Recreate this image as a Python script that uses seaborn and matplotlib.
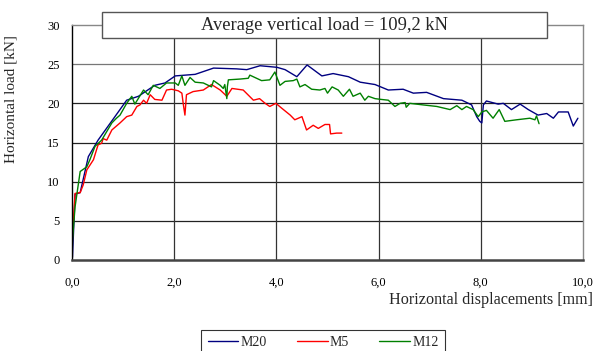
import numpy as np
import pandas as pd
import matplotlib
matplotlib.use("Agg")
import matplotlib.pyplot as plt
from matplotlib.patches import Rectangle
import seaborn as sns

# ---- data ----
m20_x = [0, 0.01, 0.06, 0.16, 0.32, 0.51, 0.84, 1.07, 1.30, 1.62, 1.82, 2.02, 2.41, 2.77, 3.22,
         3.42, 3.68, 4.01, 4.17, 4.40, 4.60, 4.89, 5.11, 5.41, 5.64, 5.93, 6.19, 6.48, 6.68, 6.94,
         7.27, 7.63, 7.82, 7.92, 7.98, 8.02, 8.05, 8.11, 8.34, 8.44, 8.60, 8.77, 8.93, 9.12, 9.29,
         9.42, 9.52, 9.71, 9.81, 9.90]
m20_y = [0, 0.4, 8.4, 8.6, 13.2, 15.3, 18.3, 20.4, 20.9, 22.3, 22.6, 23.5, 23.7, 24.5, 24.4,
         24.3, 24.8, 24.6, 24.3, 23.4, 24.9, 23.5, 23.8, 23.4, 22.7, 22.4, 21.7, 21.8, 21.3, 21.4,
         20.6, 20.4, 19.8, 18.3, 17.7, 17.5, 19.8, 20.3, 19.9, 20.0, 19.2, 19.9, 19.2, 18.5, 18.7,
         18.1, 18.9, 18.9, 17.1, 18.1]

m5_x = [0, 0.01, 0.06, 0.16, 0.22, 0.29, 0.42, 0.51, 0.58, 0.61, 0.68, 0.78, 0.94, 1.07, 1.17,
        1.27, 1.33, 1.40, 1.46, 1.53, 1.62, 1.76, 1.85, 1.95, 2.08, 2.15, 2.18, 2.21, 2.24, 2.37,
        2.57, 2.73, 2.90, 3.03, 3.13, 3.35, 3.55, 3.67, 3.78, 3.87, 3.99, 4.10, 4.27, 4.36, 4.50,
        4.59, 4.72, 4.82, 4.95, 5.04, 5.06, 5.18, 5.28]
m5_y = [0, 3.4, 8.5, 8.6, 9.6, 11.5, 12.8, 14.7, 14.9, 15.5, 15.3, 16.6, 17.5, 18.3, 18.5,
        19.6, 19.8, 20.4, 20.0, 21.1, 20.5, 20.4, 21.7, 21.8, 21.6, 21.3, 19.8, 18.5, 21.1, 21.5,
        21.7, 22.4, 21.7, 20.9, 21.9, 21.7, 20.4, 20.6, 20.0, 19.6, 20.0, 19.4, 18.5, 17.9, 18.3,
        16.6, 17.2, 16.8, 17.3, 17.3, 16.1, 16.2, 16.2]

m12_x = [0, 0.01, 0.06, 0.16, 0.29, 0.35, 0.45, 0.58, 0.68, 0.78, 0.87, 0.94, 1.07, 1.17, 1.23,
         1.40, 1.49, 1.59, 1.72, 1.85, 2.02, 2.08, 2.15, 2.21, 2.31, 2.41, 2.57, 2.73, 2.77, 2.90,
         2.96, 2.99, 3.03, 3.04, 3.06, 3.29, 3.45, 3.48, 3.71, 3.87, 3.97, 4.07, 4.17, 4.33, 4.40,
         4.46, 4.56, 4.69, 4.85, 4.95, 5.00, 5.09, 5.21, 5.31, 5.43, 5.50, 5.64, 5.73, 5.80, 5.93,
         6.05, 6.19, 6.32, 6.42, 6.52, 6.54, 6.61, 6.87, 7.14, 7.40, 7.53, 7.63, 7.72, 7.85, 7.95,
         8.02, 8.11, 8.24, 8.36, 8.47, 8.70, 8.96, 9.06, 9.09, 9.14]
m12_y = [0, 2.6, 6.8, 11.3, 11.9, 12.8, 14.5, 15.3, 16.4, 17.5, 18.1, 18.5, 20.0, 20.9, 19.9,
         21.7, 21.1, 22.3, 21.9, 22.6, 22.6, 22.3, 23.5, 22.3, 23.3, 22.7, 22.6, 22.1, 22.9, 22.3,
         21.9, 22.4, 20.6, 22.1, 23.0, 23.1, 23.2, 23.6, 22.9, 23.0, 24.0, 22.3, 22.8, 22.9, 23.1,
         22.1, 22.4, 21.8, 21.7, 21.9, 21.3, 22.1, 21.7, 20.9, 21.8, 20.9, 21.3, 20.4, 20.9, 20.6,
         20.5, 20.4, 19.6, 20.0, 20.1, 19.5, 20.0, 19.8, 19.6, 19.2, 19.7, 19.2, 19.6, 19.2, 18.3,
         18.9, 19.1, 18.1, 19.2, 17.7, 17.9, 18.1, 17.9, 18.4, 17.4]

series_names = ["M20", "M5", "M12"]
colors = ["#000080", "#ff0000", "#008000"]
x_ticks = [0, 2, 4, 6, 8, 10]
x_tick_labels = ["0,0", "2,0", "4,0", "6,0", "8,0", "10,0"]
y_ticks = [0, 5, 10, 15, 20, 25, 30]
title_text = "Average vertical load = 109,2 kN"

frames = []
for name, xs, ys in zip(series_names, [m20_x, m5_x, m12_x], [m20_y, m5_y, m12_y]):
    frames.append(pd.DataFrame({"x": xs, "y": ys, "series": name}))
df = pd.concat(frames, ignore_index=True)

sns.set_style("white")
plt.rcParams["font.family"] = ["Liberation Serif", "DejaVu Serif"]

W, H = 596, 351
fig = plt.figure(figsize=(W / 100, H / 100), dpi=100)
ax = fig.add_axes([72 / W, 1 - 260 / H, (583 - 72) / W, (260 - 25) / H])

sns.lineplot(data=df, x="x", y="y", hue="series", hue_order=series_names,
             palette=colors, sort=False, estimator=None, units="series",
             linewidth=1.0, ax=ax, legend=False)

ax.set_xlim(0, 10)
ax.set_ylim(0, 30)
ax.set_xticks(x_ticks)
ax.set_xticklabels(x_tick_labels, fontsize=9)
ax.set_yticks(y_ticks)
ax.set_yticklabels([str(v) for v in y_ticks], fontsize=9)
ax.tick_params(axis="both", direction="out", length=4, width=0.8, colors="black", pad=5)
ax.tick_params(axis="x", pad=8)

for v in [5, 10, 15, 20, 25]:
    ax.axhline(v, color="#222222" if v != 25 else "#777777", lw=0.9, zorder=0.5)
for v in [2, 4, 6, 8]:
    ax.axvline(v, color="#333333", lw=0.9, zorder=0.5)

for s in ["top", "right"]:
    ax.spines[s].set_visible(True)
    ax.spines[s].set_color("#888888")
    ax.spines[s].set_linewidth(1.0)
ax.spines["left"].set_color("black")
ax.spines["left"].set_linewidth(1.0)
ax.spines["bottom"].set_color("#444444")
ax.spines["bottom"].set_linewidth(1.8)

ax.set_xlabel("")
ax.set_ylabel("Horizontal load [kN]", fontsize=11)
ax.yaxis.set_label_coords((17.5 - 72) / 511, (260 - 99) / 235)
fig.text(593 / W, 1 - 300 / H, "Horizontal displacements [mm]", ha="right", va="center", fontsize=11.6)

# title box
rect = Rectangle((102 / W, 1 - 38 / H), 445 / W, 26 / H, transform=fig.transFigure,
                 facecolor="white", edgecolor="#555555", lw=1.0, zorder=5)
fig.patches.append(rect)
fig.text(324.5 / W, 1 - 25 / H, title_text, ha="center", va="center", fontsize=13.3, zorder=6)

handles = ax.get_lines()[:3]
leg = fig.legend(handles, series_names, loc="upper center",
                 bbox_to_anchor=(323 / W, 1 - 330 / H), borderaxespad=0, ncol=3, fontsize=10,
                 frameon=True, fancybox=False, edgecolor="black", handlelength=2.2,
                 columnspacing=2.2, handletextpad=0.15, borderpad=0.45)
leg.get_frame().set_linewidth(0.8)

fig.savefig("out.png", dpi=100)
